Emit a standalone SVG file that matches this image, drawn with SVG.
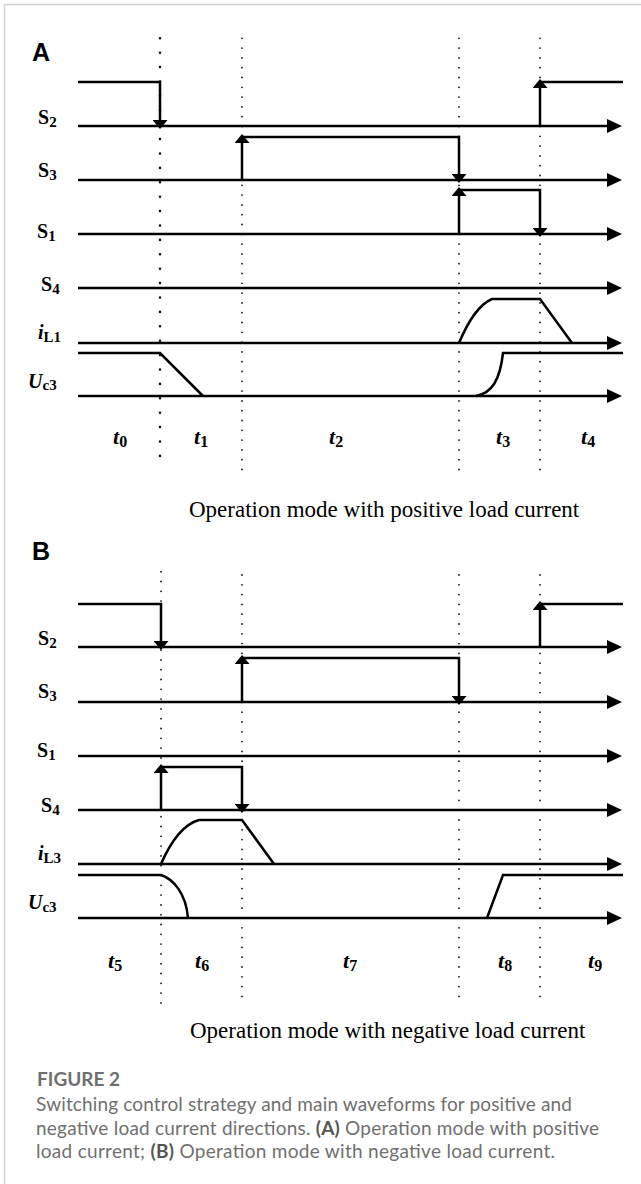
<svg xmlns="http://www.w3.org/2000/svg" width="641" height="1184" viewBox="0 0 641 1184">
<defs>
<style>
.ax{fill:none;stroke:#000;stroke-width:2.6;marker-end:url(#axarr)}
.sig{fill:none;stroke:#000;stroke-width:2.5;stroke-linejoin:miter}
.dn{marker-end:url(#varr)}
.dot{fill:none;stroke:#111;stroke-width:1.8;stroke-linecap:round;stroke-dasharray:0 9.8}
.dotb{fill:none;stroke:#111;stroke-width:2.6;stroke-linecap:round;stroke-dasharray:0 14.4}
.lbl{font-family:"Liberation Serif","Times New Roman",serif;font-weight:bold;font-size:20px;fill:#000}
.it{font-style:italic}
.sub{font-size:15px;font-style:normal}
.tl{font-family:"Liberation Serif","Times New Roman",serif;font-weight:bold;font-size:22px;font-style:italic;fill:#000}
.tsub{font-size:16px;font-style:normal}
.mode{font-family:"Liberation Serif","Times New Roman",serif;font-size:23px;fill:#000}
.pan{font-family:"Liberation Sans",Arial,sans-serif;font-weight:bold;font-size:25px;fill:#000}
.cap{font-family:Lato,"Noto Sans",sans-serif;font-size:19px;fill:#6f6f6f}
.capb{font-weight:bold;fill:#555}
</style>
<marker id="axarr" markerUnits="userSpaceOnUse" markerWidth="15" markerHeight="14" viewBox="0 0 15 14" refX="5" refY="7" orient="auto"><path d="M0,0 L15,7 L0,14 z" fill="#000"/></marker>
<marker id="varr" markerUnits="userSpaceOnUse" markerWidth="9" markerHeight="15" viewBox="0 0 9 15" refX="3" refY="7.5" orient="auto"><path d="M0,0 L9,7.5 L0,15 z" fill="#000"/></marker>
</defs>
<rect width="641" height="1184" fill="#fff"/>
<polyline points="4.5,1184 4.5,4.5 641,4.5" fill="none" stroke="#d4d4d4" stroke-width="1.5"/>

<g id="panel-A">
<text class="pan" x="32" y="61">A</text>
<g id="connectors-A">
<line class="dotb" x1="160" y1="38.3" x2="160" y2="470.3"/>
<line class="dot" x1="242" y1="38.3" x2="242" y2="470"/>
<line class="dot" x1="459" y1="38.3" x2="459" y2="470"/>
<line class="dot" x1="540" y1="38.3" x2="540" y2="470"/>
</g>
<g id="A-S2">
<text class="lbl" x="38" y="124">S<tspan class="sub" dy="3">2</tspan></text>
<line class="ax" x1="78" y1="126" x2="612" y2="126"/>
<path class="sig dn" d="M78,82 H160 V123"/>
<path class="sig dn" d="M540,126 V85"/>
<path class="sig" d="M540,82 H623"/>
</g>
<g id="A-S3">
<text class="lbl" x="38" y="177">S<tspan class="sub" dy="3">3</tspan></text>
<line class="ax" x1="78" y1="180" x2="612" y2="180"/>
<path class="sig dn" d="M242,180 V140"/>
<path class="sig dn" d="M242,137 H459 V177"/>
</g>
<g id="A-S1">
<text class="lbl" x="37" y="238">S<tspan class="sub" dy="3">1</tspan></text>
<line class="ax" x1="78" y1="234" x2="612" y2="234"/>
<path class="sig dn" d="M459,234 V193"/>
<path class="sig dn" d="M459,190 H540 V231"/>
</g>
<g id="A-S4">
<text class="lbl" x="41" y="291">S<tspan class="sub" dy="3">4</tspan></text>
<line class="ax" x1="78" y1="288" x2="612" y2="288"/>
</g>
<g id="A-iL1">
<text class="lbl it" x="38" y="339">i<tspan class="sub" dy="3" font-style="italic">L</tspan><tspan class="sub">1</tspan></text>
<line class="ax" x1="78" y1="343" x2="612" y2="343"/>
<path class="sig" d="M459,343 C464,331 476,306 492,299 H540 L572,343"/>
</g>
<g id="A-Uc3">
<text class="lbl it" x="28" y="388">U<tspan class="sub" dy="2" font-style="italic">c</tspan><tspan class="sub">3</tspan></text>
<line class="ax" x1="78" y1="396" x2="612" y2="396"/>
<path class="sig" d="M78,353 H160 L203,396"/>
<path class="sig" d="M476,396 C492,393 500,380 503,353 H623"/>
</g>
<g id="A-times">
<text class="tl" x="113" y="444">t<tspan class="tsub" dy="3">0</tspan></text>
<text class="tl" x="194" y="444">t<tspan class="tsub" dy="3">1</tspan></text>
<text class="tl" x="329" y="444">t<tspan class="tsub" dy="3">2</tspan></text>
<text class="tl" x="496" y="444">t<tspan class="tsub" dy="3">3</tspan></text>
<text class="tl" x="581" y="444">t<tspan class="tsub" dy="3">4</tspan></text>
</g>
<text class="mode" x="189" y="517">Operation mode with positive load current</text>
</g>

<g id="panel-B">
<text class="pan" x="32" y="560">B</text>
<g id="connectors-B">
<line class="dot" x1="161" y1="571.7" x2="161" y2="1003"/>
<line class="dot" x1="242" y1="575" x2="242" y2="1003"/>
<line class="dot" x1="459" y1="575" x2="459" y2="1003"/>
<line class="dot" x1="540" y1="575" x2="540" y2="1003"/>
</g>
<g id="B-S2">
<text class="lbl" x="38" y="645">S<tspan class="sub" dy="3">2</tspan></text>
<line class="ax" x1="78" y1="647" x2="612" y2="647"/>
<path class="sig dn" d="M78,604 H161 V644"/>
<path class="sig dn" d="M540,647 V607"/>
<path class="sig" d="M540,604 H623"/>
</g>
<g id="B-S3">
<text class="lbl" x="38" y="698">S<tspan class="sub" dy="3">3</tspan></text>
<line class="ax" x1="78" y1="702" x2="612" y2="702"/>
<path class="sig dn" d="M242,702 V661"/>
<path class="sig dn" d="M242,658 H459 V699"/>
</g>
<g id="B-S1">
<text class="lbl" x="37" y="757">S<tspan class="sub" dy="3">1</tspan></text>
<line class="ax" x1="78" y1="756" x2="612" y2="756"/>
</g>
<g id="B-S4">
<text class="lbl" x="41" y="812">S<tspan class="sub" dy="3">4</tspan></text>
<line class="ax" x1="78" y1="810" x2="612" y2="810"/>
<path class="sig dn" d="M161,810 V770"/>
<path class="sig dn" d="M161,767 H242 V807"/>
</g>
<g id="B-iL3">
<text class="lbl it" x="38" y="860">i<tspan class="sub" dy="3" font-style="italic">L</tspan><tspan class="sub">3</tspan></text>
<line class="ax" x1="78" y1="864" x2="612" y2="864"/>
<path class="sig" d="M161,864 C168,848 181,825 199,820 H242 L274,864"/>
</g>
<g id="B-Uc3">
<text class="lbl it" x="28" y="909">U<tspan class="sub" dy="3">c3</tspan></text>
<line class="ax" x1="78" y1="918" x2="612" y2="918"/>
<path class="sig" d="M78,875 H161 C173,879 186,893 188,918"/>
<path class="sig" d="M487,918 L503,875 H623"/>
</g>
<g id="B-times">
<text class="tl" x="108" y="968">t<tspan class="tsub" dy="3">5</tspan></text>
<text class="tl" x="195" y="968">t<tspan class="tsub" dy="3">6</tspan></text>
<text class="tl" x="343" y="968">t<tspan class="tsub" dy="3">7</tspan></text>
<text class="tl" x="498" y="968">t<tspan class="tsub" dy="3">8</tspan></text>
<text class="tl" x="588" y="968">t<tspan class="tsub" dy="3">9</tspan></text>
</g>
<text class="mode" x="190" y="1038">Operation mode with negative load current</text>
</g>

<g id="caption">
<text class="cap" x="37" y="1086" font-size="18" font-weight="bold" fill="#777">FIGURE 2</text>
<text class="cap" x="36" y="1111" textLength="536" lengthAdjust="spacing">Switching control strategy and main waveforms for positive and</text>
<text class="cap" x="36" y="1134.5" textLength="563" lengthAdjust="spacing">negative load current directions. <tspan class="capb">(A)</tspan> Operation mode with positive</text>
<text class="cap" x="36" y="1158" textLength="519" lengthAdjust="spacing">load current; <tspan class="capb">(B)</tspan> Operation mode with negative load current.</text>
</g>
</svg>
